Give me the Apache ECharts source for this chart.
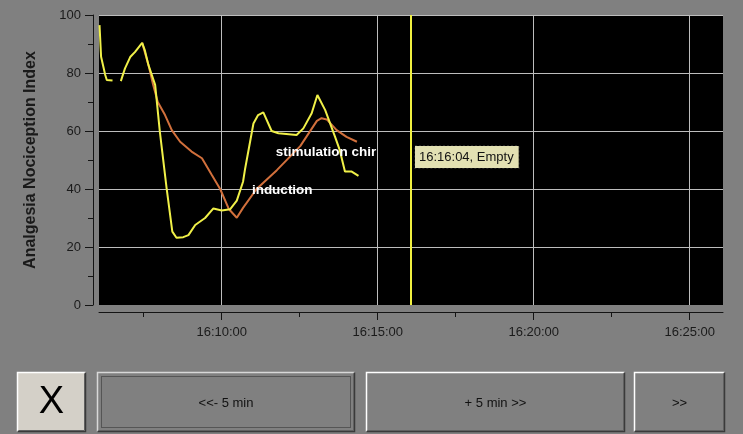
<!DOCTYPE html>
<html><head><meta charset="utf-8">
<script src="https://cdn.jsdelivr.net/npm/echarts@6/dist/echarts.min.js"></script>
<style>html,body{margin:0;padding:0;background:#808080}#c{width:743px;height:434px}</style>
</head><body><div id="c"></div>
<script>
// ---- data ----
const yellowTimes = ['16:06:05','16:06:08','16:06:16','16:06:19','16:06:30','16:06:37','16:06:46','16:06:54','16:07:04','16:07:13','16:07:27','16:07:32','16:07:39','16:07:52','16:08:01','16:08:14','16:08:25','16:08:33','16:08:46','16:08:56','16:09:09','16:09:28','16:09:44','16:10:00','16:10:16','16:10:29','16:10:41','16:10:45','16:11:01','16:11:10','16:11:20','16:11:36','16:11:49','16:12:24','16:12:37','16:12:53','16:13:04','16:13:19','16:13:38','16:13:47','16:13:57','16:14:10','16:14:23'];
const yellowValues = [96.5,85.6,79.3,77.6,77.4,null,77.2,81.6,85.5,87.2,90.4,87.9,82.8,75.9,59.8,40.3,25.3,23.2,23.4,24.1,27.6,30.0,33.3,32.6,33.0,36.0,42.5,47.0,62.6,65.5,66.4,60.0,59.2,58.6,60.9,66.1,72.4,67.2,58.0,53.4,46.0,46.0,44.5];
const orangeTimes = ['16:07:27','16:07:39','16:07:48','16:07:57','16:08:11','16:08:24','16:08:40','16:09:02','16:09:22','16:09:41','16:09:57','16:10:14','16:10:29','16:10:41','16:11:07','16:11:46','16:12:31','16:13:03','16:13:12','16:13:22','16:13:41','16:14:00','16:14:20'];
const orangeValues = [90.4,82.8,76.0,70.0,65.5,60.3,56.3,52.9,50.6,44.8,40.0,33.0,30.1,33.5,40.0,46.5,54.8,63.5,64.4,64.0,60.3,58.0,56.3];
const xRange = ['16:06:04','16:26:04'];
const xMajorTicks = ['16:10:00','16:15:00','16:20:00','16:25:00'];
const xMinorTicks = ['16:07:30','16:12:30','16:17:30','16:22:30'];
const yMin = 0, yMax = 100, yStep = 20;
const yTitle = 'Analgesia Nociception Index';
const cursorTime = '16:16:04';
const cursorText = '16:16:04, Empty';
const cursorLabelValue = 51;
const eventTimes = ['16:11:44','16:10:58'];
const eventValues = [52.8, 39.7];
const eventTexts = ['stimulation chir','induction'];
const buttonTexts = ['X','<<- 5 min','+ 5 min >>','>>'];

// ---- helpers ----
function toSec(s){const p=s.split(':').map(Number);return p[0]*3600+p[1]*60+p[2];}
function pad(n){return (n<10?'0':'')+n;}
function fmt(v){v=Math.round(v);return pad(Math.floor(v/3600))+':'+pad(Math.floor(v%3600/60))+':'+pad(v%60);}
const FONT = "'Liberation Sans', Arial, sans-serif";

const yellowData = yellowTimes.map((t,i)=>[toSec(t), yellowValues[i]===null?'-':yellowValues[i]]);
const orangeData = orangeTimes.map((t,i)=>[toSec(t), orangeValues[i]]);

// ---- buttons (UI chrome) ----
function button(x,y,w,h,text,o){
  const els=[];
  els.push({type:'rect',shape:{x:x,y:y,width:w,height:h},style:{fill:o.fill,stroke:null}});
  els.push({type:'polyline',shape:{points:[[x+0.5,y+h-0.5],[x+0.5,y+0.5],[x+w-0.5,y+0.5]]},style:{stroke:o.light,lineWidth:1.5,fill:null}});
  els.push({type:'polyline',shape:{points:[[x+0.5,y+h-0.5],[x+w-0.5,y+h-0.5],[x+w-0.5,y+0.5]]},style:{stroke:'#3a3a3a',lineWidth:1.5,fill:null}});
  els.push({type:'polyline',shape:{points:[[x+1.5,y+h-1.5],[x+w-1.5,y+h-1.5],[x+w-1.5,y+1.5]]},style:{stroke:'#606060',lineWidth:1,fill:null}});
  if(o.focus){
    els.push({type:'rect',shape:{x:x+4.5,y:y+4.5,width:w-9,height:h-9},style:{fill:null,stroke:'#2a2a2a',lineWidth:1,lineDash:[1,1]}});
  }
  els.push({type:'text',style:{text:text,x:x+w/2,y:y+h/2+1,textAlign:'center',textVerticalAlign:'middle',font:o.font,fill:o.color}});
  return els;
}
const graphics = [].concat(
  button(17,372,69,60,buttonTexts[0],{fill:'#d4d0c8',light:'#ffffff',font:'38px '+FONT,color:'#000'}),
  button(97,372,258,60,buttonTexts[1],{fill:'#808080',light:'#d8d8d8',font:'13px '+FONT,color:'#111',focus:true}),
  button(366,372,259,60,buttonTexts[2],{fill:'#808080',light:'#ffffff',font:'13px '+FONT,color:'#111'}),
  button(634,372,91,60,buttonTexts[3],{fill:'#808080',light:'#ffffff',font:'13px '+FONT,color:'#111'})
);

const chart = echarts.init(document.getElementById('c'), null, {renderer:'canvas'});
const axisText = {color:'#1a1a1a', fontSize:13, fontFamily:FONT};
const gridBox = {left:99, top:15, width:624, height:290, containLabel:false, outerBoundsMode:'none'};
chart.setOption({
  backgroundColor:'#808080',
  animation:false,
  grid:[
    Object.assign({show:true, backgroundColor:'#000', borderWidth:0}, gridBox),
    Object.assign({show:false}, gridBox)
  ],
  xAxis:[{
    gridIndex:0, type:'value', min:toSec(xRange[0]), max:toSec(xRange[1]), position:'bottom', offset:7,
    axisLine:{show:true,onZero:false,lineStyle:{color:'#141414',width:1}},
    axisTick:{show:true,length:8,lineStyle:{color:'#141414'},customValues:xMajorTicks.map(toSec)},
    axisLabel:Object.assign({show:true,margin:14,formatter:fmt,customValues:xMajorTicks.map(toSec)},axisText),
    splitLine:{show:true,lineStyle:{color:'#bdbdbd',width:1}}
  },{
    gridIndex:1, type:'value', min:toSec(xRange[0]), max:toSec(xRange[1]), position:'bottom', offset:7,
    axisLine:{show:false,onZero:false},
    axisTick:{show:true,inside:false,length:5,lineStyle:{color:'#141414'},customValues:xMinorTicks.map(toSec)},
    axisLabel:{show:false},
    splitLine:{show:false}
  }],
  yAxis:[{
    gridIndex:0, type:'value', min:yMin, max:yMax, interval:yStep, offset:6,
    name:yTitle, nameLocation:'middle', nameGap:54, nameRotate:90,
    nameTextStyle:{color:'#1a1a1a',fontSize:16,fontWeight:'bold',fontFamily:FONT},
    axisLine:{show:true,lineStyle:{color:'#141414',width:1}},
    axisTick:{show:true,length:8,lineStyle:{color:'#141414'}},
    minorTick:{show:true,splitNumber:2,length:5,lineStyle:{color:'#141414'}},
    axisLabel:Object.assign({margin:12},axisText),
    splitLine:{show:true,showMinLine:false,lineStyle:{color:'#bdbdbd',width:1}}
  },{
    gridIndex:1, type:'value', min:yMin, max:yMax, show:false
  }],
  series:[{
    type:'line', data:orangeData, xAxisIndex:0, yAxisIndex:0, showSymbol:false, symbol:'none', z:3,
    lineStyle:{color:'#d2703c',width:2}, connectNulls:false,
    markPoint:{
      symbol:'circle', symbolSize:0, silent:true,
      data:eventTexts.map((t,i)=>({coord:[toSec(eventTimes[i]),eventValues[i]],
        label:{show:true,formatter:t,position:'right',distance:0,color:'#ffffff',fontSize:13.5,fontWeight:'bold',fontFamily:FONT}}))
    }
  },{
    type:'line', data:yellowData, xAxisIndex:0, yAxisIndex:0, showSymbol:false, symbol:'none', z:4,
    lineStyle:{color:'#f0f048',width:2}, connectNulls:false,
    markLine:{
      silent:true, symbol:'none', animation:false,
      lineStyle:{color:'#f0f040',width:2,type:'solid'}, label:{show:false},
      data:[{xAxis:toSec(cursorTime)}]
    },
    markPoint:{
      symbol:'circle', symbolSize:0, silent:true,
      data:[{coord:[toSec(cursorTime),cursorLabelValue],
        label:{show:true,formatter:cursorText,position:'right',distance:4,color:'#111',fontSize:13,fontFamily:FONT,
          backgroundColor:'#e2e0b2',borderColor:'#222',borderWidth:1,borderType:'dotted',padding:[5,5,4,4]}}]
    }
  }],
  graphic:graphics
});
</script></body></html>
